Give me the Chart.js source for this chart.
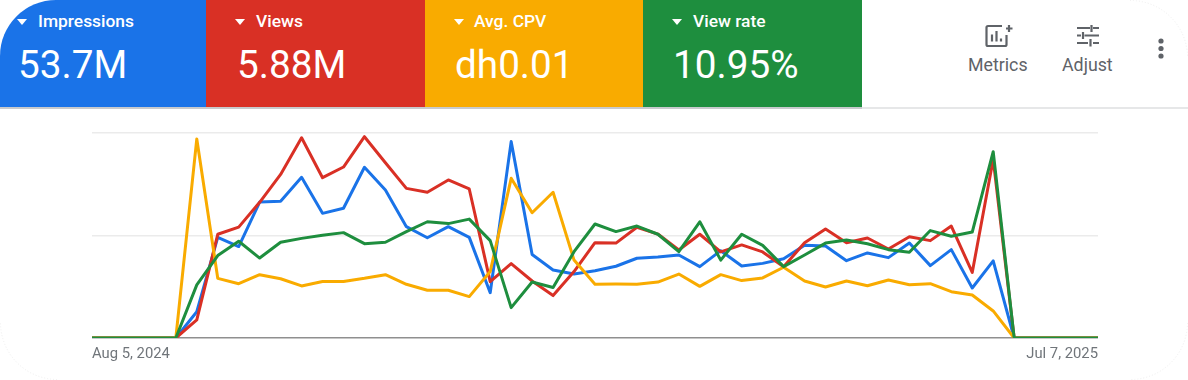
<!DOCTYPE html>
<html>
<head>
<meta charset="utf-8">
<title>YouTube ad metrics</title>
<script src="https://cdn.jsdelivr.net/npm/chart.js@4"></script>
<style>
    html, body { margin: 0; padding: 0; background: #fff; }
    body { width: 1188px; height: 380px; overflow: hidden; position: relative; font-family: Roboto, sans-serif; }
    .tile { position: absolute; top: 0; height: 107px; color: #fff; }
    .tile .name { position: absolute; top: 12px; font-size: 17.4px; font-weight: 500; line-height: 18px; white-space: nowrap; }
    .tile .arrow { position: absolute; top: 19px; width: 0; height: 0; border-left: 5.5px solid transparent; border-right: 5.5px solid transparent; border-top: 6px solid #fff; }
    .tile .num { position: absolute; top: 44px; font-size: 38.7px; line-height: 42px; white-space: nowrap; }
    .rule { position: absolute; left: 0; top: 107px; width: 862px; height: 1.5px; background: #c8cacd; }
    .rule2 { position: absolute; left: 862px; top: 107px; width: 326px; height: 1.5px; background: #e6e7e8; }
    .tool { position: absolute; top: 56px; font-size: 17.8px; line-height: 18px; color: #5f6368; }
    svg { position: absolute; }
    #wrap { position: absolute; left: 0; top: 110px; width: 1188px; height: 270px; }
</style>
</head>
<body>
<svg style="left:0;top:0" width="1188" height="380" fill="none" stroke="#efefef" stroke-width="1" stroke-dasharray="1 2">
    <path d="M1130 0.500A57 57 0 0 1 1187.500 57M1187.500 323A57 57 0 0 1 1130 379.500M57 379.500A57 57 0 0 1 0.500 323"/>
</svg>

<div class="tile" style="left:0;width:206px;background:#1a73e8;border-top-left-radius:56px">
    <div class="arrow" style="left:17px"></div><div class="name" style="left:38px">Impressions</div><div class="num" style="left:18px">53.7M</div>
</div>
<div class="tile" style="left:206px;width:219px;background:#d93025">
    <div class="arrow" style="left:29px"></div><div class="name" style="left:50px">Views</div><div class="num" style="left:31px">5.88M</div>
</div>
<div class="tile" style="left:425px;width:218px;background:#f9ab00">
    <div class="arrow" style="left:29px"></div><div class="name" style="left:49px">Avg. CPV</div><div class="num" style="left:30px">dh0.01</div>
</div>
<div class="tile" style="left:643px;width:219px;background:#1e8e3e">
    <div class="arrow" style="left:29px"></div><div class="name" style="left:50px">View rate</div><div class="num" style="left:30px">10.95%</div>
</div>
<div class="rule"></div><div class="rule2"></div>

<svg style="left:985px;top:24px" width="28" height="24" viewBox="0 0 28 24" fill="none" stroke="#5f6368" stroke-width="2.200">
    <path d="M17 2H3a1.500 1.500 0 0 0-1.500 1.500v17A1.500 1.500 0 0 0 3 22h17a1.500 1.500 0 0 0 1.500-1.500V11"/>
    <path d="M7 17.500v-7M11.500 17.500V7M16 17.500v-3M21 4.500h6.500M24 1v7"/>
</svg>
<div class="tool" style="left:968px">Metrics</div>

<svg style="left:1076px;top:24px" width="24" height="23" viewBox="0 0 24 23" fill="none" stroke="#5f6368" stroke-width="2.200">
    <path d="M1 4h13M17 4h6M15.500 1v7M1 11.500h4M8.500 11.500H23M7 8v7M1 19h11M17 19h6M14.500 15v7.500"/>
</svg>
<div class="tool" style="left:1062px">Adjust</div>

<svg style="left:1156px;top:37px" width="10" height="24" viewBox="0 0 10 24" fill="#5f6368">
    <circle cx="5" cy="4" r="2.600"/><circle cx="5" cy="11.500" r="2.600"/><circle cx="5" cy="19" r="2.600"/>
</svg>

<div id="wrap"><canvas id="LineChart" width="1188" height="270"></canvas></div>

<script>
// weeks, Aug 5 2024 to Jul 7 2025
const weeks = [
    'Aug 5, 2024', 'Aug 12, 2024', 'Aug 19, 2024', 'Aug 26, 2024',
    'Sep 2, 2024', 'Sep 9, 2024', 'Sep 16, 2024', 'Sep 23, 2024', 'Sep 30, 2024',
    'Oct 7, 2024', 'Oct 14, 2024', 'Oct 21, 2024', 'Oct 28, 2024',
    'Nov 4, 2024', 'Nov 11, 2024', 'Nov 18, 2024', 'Nov 25, 2024',
    'Dec 2, 2024', 'Dec 9, 2024', 'Dec 16, 2024', 'Dec 23, 2024', 'Dec 30, 2024',
    'Jan 6, 2025', 'Jan 13, 2025', 'Jan 20, 2025', 'Jan 27, 2025',
    'Feb 3, 2025', 'Feb 10, 2025', 'Feb 17, 2025', 'Feb 24, 2025',
    'Mar 3, 2025', 'Mar 10, 2025', 'Mar 17, 2025', 'Mar 24, 2025', 'Mar 31, 2025',
    'Apr 7, 2025', 'Apr 14, 2025', 'Apr 21, 2025', 'Apr 28, 2025',
    'May 5, 2025', 'May 12, 2025', 'May 19, 2025', 'May 26, 2025',
    'Jun 2, 2025', 'Jun 9, 2025', 'Jun 16, 2025', 'Jun 23, 2025', 'Jun 30, 2025',
    'Jul 7, 2025'
];

// each series is on its own hidden scale in the original, so these are % of chart height
const impressions = [0, 0, 0, 0, 0, 12.8, 49.1, 44.6, 66.3, 66.7, 78.4, 60.8, 63.3, 83.3, 72.2, 54.3, 48.9, 54.3, 49.1, 22.1, 95.8, 40.7, 33.2, 31.2, 32.8, 35, 38.9, 39.5, 40.5, 34.8, 42.6, 35.1, 36.4, 38.7, 45.2, 44.9, 37.7, 41.5, 39.2, 46.3, 35.3, 43.1, 24.4, 37.6, 0, 0, 0, 0, 0];
const views = [0, 0, 0, 0, 0, 8.8, 50.6, 54.1, 66.2, 79.8, 97.7, 78.2, 83.4, 98.2, 85.5, 73, 71.1, 77.1, 72.7, 27.5, 36.3, 27.8, 20.7, 32.4, 46.5, 46.3, 54, 50.7, 42.9, 50.6, 42, 45.4, 42, 34.8, 46.5, 53.2, 46.5, 48.8, 43.4, 49.4, 47.5, 54.6, 32, 87.2, 0, 0, 0, 0, 0];
const avgCpv = [0, 0, 0, 0, 0, 97.1, 29.1, 26.5, 30.9, 28.9, 25.4, 27.6, 27.6, 29.1, 30.9, 26.2, 23.3, 23.3, 20.2, 32.4, 77.9, 61.1, 71.1, 38, 26.2, 26.3, 26.2, 27.3, 31.2, 25.2, 30.9, 28, 29.3, 34.5, 27.8, 24.9, 27.8, 25.5, 28.3, 26, 26.5, 22.6, 21, 13.2, 0, 0, 0, 0, 0];
const viewRate = [0, 0, 0, 0, 0, 25.9, 40.2, 47.2, 39, 46.7, 48.6, 50.1, 51.4, 46, 46.7, 51.9, 56.7, 55.8, 58, 47.5, 14.8, 27.3, 24.6, 42.1, 55.6, 51.9, 54.6, 50.6, 42.1, 56.7, 38, 50.6, 45.2, 34.8, 40.5, 46.3, 47.8, 46, 43.1, 41.8, 52.4, 49.6, 51.7, 90.9, 0, 0, 0, 0, 0];

const tickLabels = ['Aug 5, 2024', 'Jul 7, 2025'];

// lower order is drawn on top, green has to end up over the others
const line_data = {
    labels: weeks,
    datasets: [
        { label: 'Impressions', data: impressions, borderColor: '#1a73e8', order: 4 },
        { label: 'Views', data: views, borderColor: '#d93025', order: 3 },
        { label: 'Avg. CPV', data: avgCpv, borderColor: '#f9ab00', order: 2 },
        { label: 'View rate', data: viewRate, borderColor: '#1e8e3e', order: 1 }
    ]
};

const configLine = {
    type: 'line',
    data: line_data,
    options: {
        responsive: false,
        animation: false,
        layout: {
            padding: { left: 92, right: 90, top: 23, bottom: 10 }
        },
        elements: {
            point: { radius: 0 },
            line: { borderWidth: 3, tension: 0, borderJoinStyle: 'round' }
        },
        plugins: {
            legend: { display: false },
            tooltip: { enabled: false }
        },
        scales: {
            x: {
                offset: false,
                grid: { display: false, drawTicks: false },
                border: { display: false },
                ticks: {
                    autoSkip: false,
                    maxRotation: 0,
                    align: 'inner',
                    padding: 7,
                    color: '#70757a',
                    font: { family: 'Roboto', size: 14.8, lineHeight: '18px' },
                    callback: function (value) {
                        const label = this.getLabelForValue(value);
                        return tickLabels.includes(label) ? label : '';
                    }
                }
            },
            y: {
                min: 0,
                max: 100,
                afterFit: function (axis) { axis.width = 0; },
                ticks: { display: false, stepSize: 50 },
                border: { display: false },
                grid: {
                    drawTicks: false,
                    lineWidth: 1.5,
                    color: function (ctx) { return ctx.tick.value === 0 ? '#8f8f8f' : '#ebebeb'; }
                }
            }
        }
    }
};

const LineChart = new Chart(document.getElementById('LineChart'), configLine);
</script>
</body>
</html>
